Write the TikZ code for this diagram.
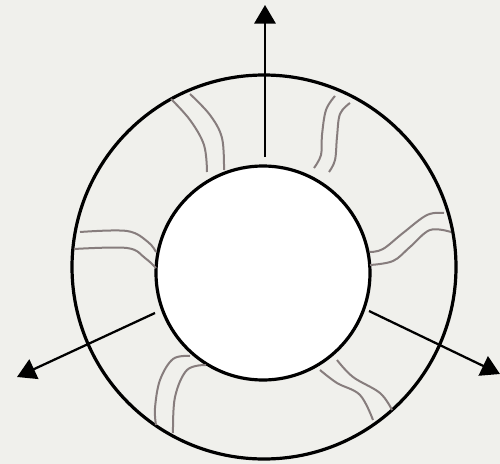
\documentclass[tikz,border=0pt]{standalone}
\usetikzlibrary{arrows.meta}
\definecolor{bgc}{RGB}{240,240,236}
\definecolor{wavec}{RGB}{135,125,125}
\begin{document}
\begin{tikzpicture}[x=0.75pt,y=-0.75pt,
  ring/.style={line width=2.4pt,black},
  outarrow/.style={line width=1.7pt,-{Triangle[length=14pt,width=16pt]}},
  wave/.style={line width=1.5pt,wavec,smooth,tension=0.6}]
\fill[bgc] (0,0) rectangle (500,464);
\useasboundingbox (0,0) rectangle (500,464);
\coordinate (c) at (264,267);
\draw[ring] (c) circle[radius=192];
\draw[ring,fill=white] (263,273) circle[radius=107];
% wavy double lines
\draw[wave] plot coordinates {(171,99) (190,120) (204,145) (207,172)};
\draw[wave] plot coordinates {(190,94) (210,115) (222,138) (224,170)};
\draw[wave] plot coordinates {(335,96) (326,110) (322,135) (321,155) (314,168)};
\draw[wave] plot coordinates {(350,103) (340,114) (337,137) (335,160) (329,172)};
\draw[wave] plot coordinates {(444,213) (427,215) (403,233) (383,249) (370,252)};
\draw[wave] plot coordinates {(451,232) (430,230) (410,247) (393,261) (370,265)};
\draw[wave] plot coordinates {(80,232) (127,231) (148,242) (156,252)};
\draw[wave] plot coordinates {(74,249) (127,248) (145,258) (156,268)};
\draw[wave] plot coordinates {(190,356) (173,359) (160,380) (155,408) (156,425)};
\draw[wave] plot coordinates {(206,365) (187,370) (175,397) (173,433)};
\draw[wave] plot coordinates {(320,370) (337,383) (360,395) (373,420)};
\draw[wave] plot coordinates {(337,360) (353,377) (380,393) (392,410)};
% arrows
\coordinate (u0) at (265,157);
\coordinate (u1) at (265,5);
\coordinate (l0) at (155,313);
\coordinate (l1) at (17,377);
\coordinate (r0) at (369,311);
\coordinate (r1) at (500,374);
\draw[outarrow] (u0) -- (u1);
\draw[outarrow] (l0) -- (l1);
\draw[outarrow] (r0) -- (r1);
\end{tikzpicture}
\end{document}
